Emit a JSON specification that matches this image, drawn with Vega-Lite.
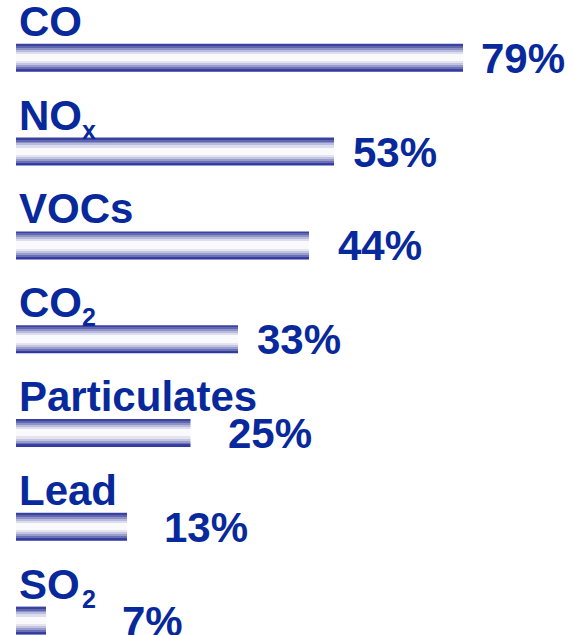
{
  "$schema": "https://vega.github.io/schema/vega-lite/v6.json",
  "width": 573,
  "height": 635,
  "padding": 0,
  "autosize": {"type": "none"},
  "background": "white",
  "config": {"view": {"stroke": null}},
  "data": {
    "values": [
      {"pollutant": "CO", "label": "CO", "sub": "", "share": 0.79},
      {"pollutant": "NOx", "label": "NO", "sub": "x", "share": 0.53},
      {"pollutant": "VOCs", "label": "VOCs", "sub": "", "share": 0.44},
      {"pollutant": "CO2", "label": "CO", "sub": "2", "share": 0.33},
      {"pollutant": "Particulates", "label": "Particulates", "sub": "", "share": 0.25},
      {"pollutant": "Lead", "label": "Lead", "sub": "", "share": 0.13},
      {"pollutant": "SO2", "label": "SO", "sub": "2", "share": 0.07}
    ]
  },
  "encoding": {
    "y": {
      "field": "pollutant",
      "type": "nominal",
      "sort": null,
      "axis": null,
      "scale": {"range": [10.9, 667.5], "paddingInner": 0, "paddingOuter": 0}
    }
  },
  "layer": [
    {
      "layer": [
        {
          "mark": {
            "type": "bar",
            "height": 28,
            "color": {
              "gradient": "linear",
              "x1": 0, "y1": 0, "x2": 0, "y2": 1,
              "stops": [
                {"offset": 0, "color": "#3a41a0"},
                {"offset": 0.07, "color": "#3a41a0"},
                {"offset": 0.07, "color": "#6067b1"},
                {"offset": 0.14, "color": "#6067b1"},
                {"offset": 0.14, "color": "#8e92c7"},
                {"offset": 0.21, "color": "#8e92c7"},
                {"offset": 0.21, "color": "#b9bbdc"},
                {"offset": 0.28, "color": "#b9bbdc"},
                {"offset": 0.28, "color": "#dcdded"},
                {"offset": 0.36, "color": "#dcdded"},
                {"offset": 0.36, "color": "#fafafd"},
                {"offset": 0.62, "color": "#fafafd"},
                {"offset": 0.62, "color": "#e4e4f0"},
                {"offset": 0.70, "color": "#e4e4f0"},
                {"offset": 0.70, "color": "#c2c4e0"},
                {"offset": 0.77, "color": "#c2c4e0"},
                {"offset": 0.77, "color": "#9a9dcc"},
                {"offset": 0.84, "color": "#9a9dcc"},
                {"offset": 0.84, "color": "#6b71b6"},
                {"offset": 0.91, "color": "#6b71b6"},
                {"offset": 0.91, "color": "#3a42a2"},
                {"offset": 1, "color": "#2c34a0"}
              ]
            }
          },
          "encoding": {
            "x": {
              "field": "share",
              "type": "quantitative",
              "axis": null,
              "scale": {
                "domain": [0, 0.07, 0.13, 0.25, 0.33, 0.44, 0.53, 0.79],
                "range": [16, 46, 127, 190.5, 238, 309, 334, 463],
                "zero": false,
                "nice": false
              }
            }
          }
        },
        {
          "mark": {
            "type": "text",
            "align": "left",
            "baseline": "alphabetic",
            "dy": -22,
            "dx": 3,
            "font": "Liberation Sans",
            "fontWeight": "bold",
            "fontSize": 42,
            "color": "#08299b"
          },
          "encoding": {
            "x": {"datum": 0, "type": "quantitative"},
            "text": {"field": "label"}
          }
        },
        {
          "mark": {
            "type": "text",
            "align": "left",
            "baseline": "alphabetic",
            "dy": -13,
            "dx": 66,
            "font": "Liberation Sans",
            "fontWeight": "bold",
            "fontSize": 25,
            "color": "#08299b"
          },
          "encoding": {
            "x": {"datum": 0, "type": "quantitative"},
            "text": {"field": "sub"}
          }
        }
      ]
    },
    {
      "mark": {
        "type": "text",
        "align": "left",
        "baseline": "alphabetic",
        "dy": 15,
        "font": "Liberation Sans",
        "fontWeight": "bold",
        "fontSize": 42,
        "color": "#08299b"
      },
      "encoding": {
        "x": {
          "field": "share",
          "type": "quantitative",
          "axis": null,
          "scale": {
            "domain": [0.07, 0.13, 0.25, 0.33, 0.44, 0.53, 0.79],
            "range": [122, 164, 228, 257, 338, 353, 481],
            "zero": false,
            "nice": false
          }
        },
        "text": {"field": "share", "type": "quantitative", "format": ".0%"}
      }
    }
  ],
  "resolve": {"scale": {"x": "independent"}}
}
